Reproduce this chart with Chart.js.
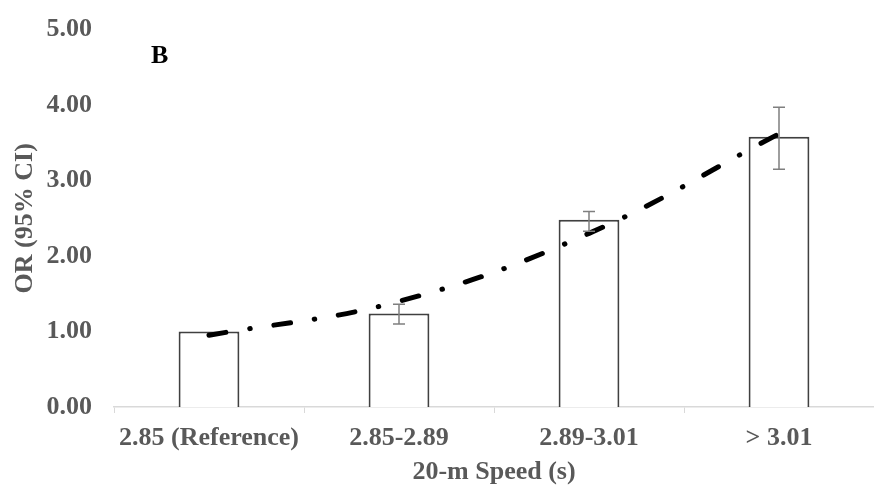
<!DOCTYPE html>
<html>
<head>
    <title>OR by 20-m Speed</title>
    <script src="https://cdn.jsdelivr.net/npm/chart.js"></script>
    <style>
        body {
            margin: 0;
            background-color: #fff;
        }
        #chartContainer {
            width: 874px;
            height: 489px;
        }
    </style>
</head>
<body>
    <div id="chartContainer">
        <canvas id="orChart"></canvas>
    </div>

    <script>
        // datos
        const categories = ['2.85 (Reference)', '2.85-2.89', '2.89-3.01', '> 3.01'];
        const orValues = [1.00, 1.24, 2.48, 3.58];
        const ciLower = [1.00, 1.10, 2.33, 3.15];
        const ciUpper = [1.00, 1.36, 2.59, 3.97];
        const trendValues = [0.95, 1.40, 2.30, 3.62];

        const textColor = '#595959';
        const fontFamily = '"Liberation Serif", "Times New Roman", serif';

        // barras de error (IC 95%)
        const errorBars = {
            id: 'errorBars',
            afterDatasetsDraw(chart) {
                const ctx = chart.ctx;
                const meta = chart.getDatasetMeta(0);
                const y = chart.scales.y;
                ctx.save();
                ctx.strokeStyle = '#7f7f7f';
                ctx.lineWidth = 1.5;
                meta.data.forEach(function(bar, i) {
                    if (ciLower[i] === ciUpper[i]) return;
                    const x = bar.x;
                    const yLo = y.getPixelForValue(ciLower[i]);
                    const yHi = y.getPixelForValue(ciUpper[i]);
                    ctx.beginPath();
                    ctx.moveTo(x, yLo);
                    ctx.lineTo(x, yHi);
                    ctx.moveTo(x - 6, yLo);
                    ctx.lineTo(x + 6, yLo);
                    ctx.moveTo(x - 6, yHi);
                    ctx.lineTo(x + 6, yHi);
                    ctx.stroke();
                });
                ctx.restore();
            }
        };

        // letra del panel
        const panelLabel = {
            id: 'panelLabel',
            afterDraw(chart) {
                const ctx = chart.ctx;
                ctx.save();
                ctx.fillStyle = '#000';
                ctx.font = 'bold 26px ' + fontFamily;
                ctx.textBaseline = 'middle';
                ctx.fillText('B', 151, 56);
                ctx.restore();
            }
        };

        const ctx = document.getElementById('orChart').getContext('2d');
        const orChart = new Chart(ctx, {
            data: {
                labels: categories,
                datasets: [{
                    type: 'bar',
                    label: 'OR',
                    data: orValues,
                    backgroundColor: '#ffffff',
                    borderColor: '#404040',
                    borderWidth: 2,
                    categoryPercentage: 1,
                    barPercentage: 0.32,
                    order: 2
                }, {
                    type: 'line',
                    label: 'Trend',
                    data: trendValues,
                    borderColor: '#000000',
                    borderWidth: 5,
                    borderDash: [17, 24, 0.5, 24],
                    borderCapStyle: 'round',
                    tension: 0.4,
                    pointRadius: 0,
                    fill: false,
                    order: 1
                }]
            },
            options: {
                responsive: true,
                maintainAspectRatio: false,
                animation: false,
                layout: {
                    padding: { top: 21, right: 0, bottom: 0, left: 0 }
                },
                plugins: {
                    legend: { display: false },
                    tooltip: { enabled: false }
                },
                scales: {
                    x: {
                        offset: true,
                        grid: {
                            offset: true,
                            drawOnChartArea: false,
                            color: '#d9d9d9',
                            tickLength: 6
                        },
                        border: { color: '#d9d9d9', width: 1.5 },
                        ticks: {
                            color: textColor,
                            padding: 10,
                            font: { family: fontFamily, size: 26, weight: 'bold' }
                        },
                        title: {
                            display: true,
                            text: '20-m Speed (s)',
                            color: textColor,
                            padding: { top: 0, bottom: 1 },
                            font: { family: fontFamily, size: 26, weight: 'bold' }
                        },
                        afterFit: function(scale) { scale.height = 82; }
                    },
                    y: {
                        min: 0,
                        max: 5,
                        grid: { display: false },
                        border: { display: false },
                        ticks: {
                            stepSize: 1,
                            color: textColor,
                            padding: 14,
                            font: { family: fontFamily, size: 26, weight: 'bold' },
                            callback: function(v) { return v.toFixed(2); }
                        },
                        title: {
                            display: true,
                            text: 'OR (95% CI)',
                            color: textColor,
                            padding: { top: 10, bottom: 0 },
                            font: { family: fontFamily, size: 26, weight: 'bold' }
                        },
                        afterFit: function(scale) { scale.width = 114; }
                    }
                }
            },
            plugins: [errorBars, panelLabel]
        });
    </script>
</body>
</html>
